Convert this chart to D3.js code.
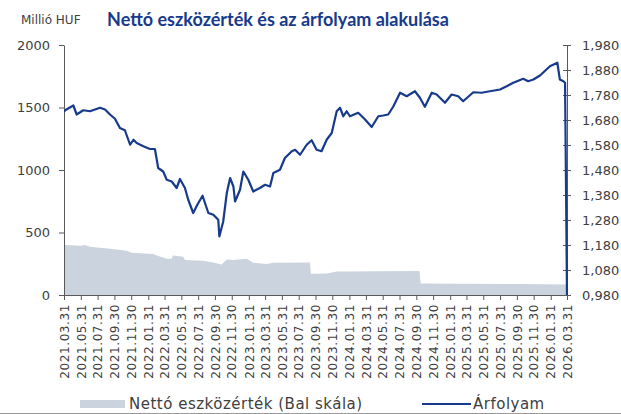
<!DOCTYPE html>
<html>
<head>
<meta charset="utf-8">
<script src="https://cdn.jsdelivr.net/npm/d3@7"></script>
<style>
  body { margin: 0; background: #fff; }
  text { font-family: "DejaVu Sans", sans-serif; fill: #404040; }
</style>
</head>
<body>
<div id="wrapper"></div>
<script>
// Nettó eszközérték (bal skála, millió HUF)
const navDates = ["2021-03-31","2021-04-04","2021-05-28","2021-06-15","2021-07-03","2021-09-14","2021-11-14","2021-12-02",
  "2022-02-18","2022-03-03","2022-04-08","2022-04-26","2022-04-30","2022-06-07","2022-06-13","2022-08-19","2022-09-24",
  "2022-10-24","2022-11-12","2022-12-06","2023-01-23","2023-02-16","2023-04-06","2023-04-30","2023-09-10","2023-09-13",
  "2023-11-10","2023-12-16","2024-10-11","2024-10-16","2025-03-07","2025-10-11","2026-03-31"];
const navValues = [398,400,395,400,387,371,355,339,
  328,317,291,291,317,307,280,275,261,
  245,285,280,291,259,248,259,261,171,
  173,189,192,93,91,88,85];

// Árfolyam (jobb skála)
const priceDates = ["2021-03-31","2021-04-04","2021-05-04","2021-05-16","2021-06-09","2021-07-03","2021-08-09","2021-08-27",
  "2021-09-14","2021-10-02","2021-10-20","2021-11-07","2021-11-26","2021-12-08","2021-12-20","2022-01-13","2022-02-06",
  "2022-02-24","2022-03-08","2022-03-26","2022-04-08","2022-04-26","2022-05-14","2022-05-26","2022-06-13","2022-06-25",
  "2022-07-13","2022-07-28","2022-08-16","2022-09-06","2022-09-24","2022-10-12","2022-10-16","2022-10-30","2022-11-12",
  "2022-11-24","2022-12-06","2022-12-12","2022-12-30","2023-01-11","2023-01-29","2023-02-16","2023-03-12","2023-03-31",
  "2023-04-18","2023-04-30","2023-05-24","2023-06-11","2023-07-06","2023-07-18","2023-08-05","2023-08-29","2023-09-16",
  "2023-10-04","2023-10-22","2023-11-10","2023-11-28","2023-12-16","2023-12-28","2024-01-09","2024-01-21","2024-02-02",
  "2024-03-03","2024-03-28","2024-04-21","2024-05-15","2024-06-02","2024-06-20","2024-07-08","2024-08-02","2024-08-26",
  "2024-09-25","2024-10-13","2024-10-31","2024-11-25","2024-12-13","2025-01-12","2025-02-05","2025-03-01","2025-03-19",
  "2025-04-25","2025-05-25","2025-06-24","2025-07-31","2025-08-24","2025-09-17","2025-10-23","2025-11-10","2025-11-29",
  "2025-12-23","2026-01-28","2026-02-24","2026-03-05","2026-03-18","2026-03-24","2026-03-31"];
const priceValues = [1712,1719,1738,1702,1719,1715,1729,1722,
  1702,1685,1648,1639,1581,1601,1588,1575,1564,
  1564,1488,1474,1441,1434,1408,1444,1408,1361,
  1308,1341,1377,1308,1301,1281,1214,1274,1388,
  1448,1414,1354,1401,1474,1441,1394,1408,1421,
  1414,1468,1481,1528,1555,1561,1541,1581,1599,
  1561,1555,1602,1628,1715,1729,1695,1715,1695,
  1709,1682,1652,1695,1698,1702,1733,1789,1775,
  1795,1769,1733,1789,1782,1749,1782,1775,1755,
  1791,1789,1795,1802,1815,1829,1845,1835,1842,
  1858,1895,1909,1842,1835,1829,980];

const tickDates = ["2021-03-31","2021-05-31","2021-07-31","2021-09-30","2021-11-30",
  "2022-01-31","2022-03-31","2022-05-31","2022-07-31","2022-09-30","2022-11-30",
  "2023-01-31","2023-03-31","2023-05-31","2023-07-31","2023-09-30","2023-11-30",
  "2024-01-31","2024-03-31","2024-05-31","2024-07-31","2024-09-30","2024-11-30",
  "2025-01-31","2025-03-31","2025-05-31","2025-07-31","2025-09-30","2025-11-30",
  "2026-01-31","2026-03-31"];
const leftTicks = [0, 500, 1000, 1500, 2000];
const rightTicks = [980, 1080, 1180, 1280, 1380, 1480, 1580, 1680, 1780, 1880, 1980];

const parse = d3.timeParse("%Y-%m-%d");
const nav = navDates.map((d, i) => ({date: parse(d), value: navValues[i]}));
const price = priceDates.map((d, i) => ({date: parse(d), value: priceValues[i]}));

var dimension = { width: 621, height: 414,
  margin: { top: 45, right: 54, bottom: 119, left: 64 } };
dimension.boundedWidth = dimension.width - dimension.margin.left - dimension.margin.right;
dimension.boundedHeight = dimension.height - dimension.margin.top - dimension.margin.bottom;

const svg = d3.select("#wrapper").append("svg")
  .attr("width", dimension.width)
  .attr("height", dimension.height);

const x = d3.scaleTime()
  .domain([parse("2021-03-31"), parse("2026-03-31")])
  .range([dimension.margin.left, dimension.margin.left + dimension.boundedWidth]);
const yLeft = d3.scaleLinear().domain([0, 2000])
  .range([dimension.margin.top + dimension.boundedHeight, dimension.margin.top]);
const yRight = d3.scaleLinear().domain([980, 1980])
  .range([dimension.margin.top + dimension.boundedHeight, dimension.margin.top]);

svg.append("defs").append("clipPath").attr("id", "plot")
  .append("rect")
  .attr("x", dimension.margin.left).attr("y", dimension.margin.top - 2)
  .attr("width", dimension.boundedWidth + 1).attr("height", dimension.boundedHeight + 2);

// area
svg.append("path")
  .datum(nav)
  .attr("fill", "#cbd4de")
  .attr("d", d3.area().x(d => x(d.date)).y0(yLeft(0)).y1(d => yLeft(d.value)));

const axisColor = "#595959";
function styleAxis(g) {
  g.select(".domain").attr("stroke", axisColor);
  g.selectAll(".tick line").attr("stroke", axisColor);
  g.selectAll(".tick text").attr("fill", "#404040").style("font-family", "DejaVu Sans");
}

// left axis
svg.append("g")
  .attr("transform", `translate(${dimension.margin.left},0)`)
  .call(d3.axisLeft(yLeft).tickValues(leftTicks).tickSize(5).tickSizeOuter(0).tickPadding(9)
    .tickFormat(d3.format("d")))
  .call(styleAxis)
  .selectAll("text").style("font-size", "13px");

// right axis
const rightX = dimension.margin.left + dimension.boundedWidth;
const rg = svg.append("g")
  .attr("transform", `translate(${rightX},0)`)
  .call(d3.axisRight(yRight).tickValues(rightTicks).tickSize(4).tickSizeOuter(0).tickPadding(11)
    .tickFormat(d => d3.format(".3f")(d / 1000).replace(".", ",")))
  .call(styleAxis);
rg.selectAll(".tick line").attr("x1", -4);
rg.selectAll("text").style("font-size", "13px");

// bottom axis
const bx = svg.append("g")
  .attr("transform", `translate(0,${yLeft(0)})`)
  .call(d3.axisBottom(x).tickValues(tickDates.map(parse)).tickSize(5).tickSizeOuter(0)
    .tickFormat(d3.timeFormat("%Y.%m.%d")))
  .call(styleAxis);
bx.selectAll("text")
  .style("font-size", "12px")
  .style("letter-spacing", "0.6px")
  .attr("text-anchor", "end")
  .attr("transform", "rotate(-90)")
  .attr("x", -9)
  .attr("y", 0)
  .attr("dy", "0.35em");

// line
svg.append("path")
  .datum(price)
  .attr("clip-path", "url(#plot)")
  .attr("fill", "none")
  .attr("stroke", "#173a8c")
  .attr("stroke-width", 2.2)
  .attr("stroke-linejoin", "round")
  .attr("d", d3.line().x(d => x(d.date)).y(d => yRight(d.value)));

// title & unit
svg.append("text")
  .attr("x", 278).attr("y", 26)
  .attr("text-anchor", "middle")
  .style("font-family", "Lato, sans-serif")
  .style("font-weight", "bold")
  .style("font-size", "18px")
  .style("fill", "#173a8c")
  .text("Nettó eszközérték és az árfolyam alakulása");

svg.append("text")
  .attr("x", 21).attr("y", 24)
  .style("font-size", "12px")
  .text("Millió HUF");

// legend
svg.append("rect")
  .attr("x", 80).attr("y", 400).attr("width", 45).attr("height", 8)
  .attr("fill", "#cbd4de");
svg.append("text")
  .attr("x", 129).attr("y", 409)
  .style("font-size", "15px")
  .style("letter-spacing", "0.5px")
  .text("Nettó eszközérték (Bal skála)");
svg.append("line")
  .attr("x1", 422).attr("x2", 471).attr("y1", 404).attr("y2", 404)
  .attr("stroke", "#173a8c").attr("stroke-width", 2);
svg.append("text")
  .attr("x", 473).attr("y", 409)
  .style("font-size", "15px")
  .style("letter-spacing", "0.5px")
  .text("Árfolyam");

svg.append("line")
  .attr("x1", 0).attr("x2", dimension.width).attr("y1", 413.5).attr("y2", 413.5)
  .attr("stroke", "#9a9a9a");
</script>
</body>
</html>
